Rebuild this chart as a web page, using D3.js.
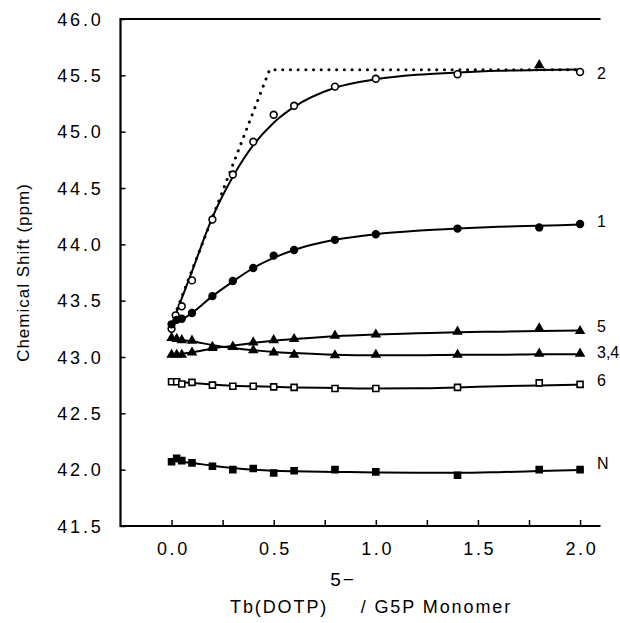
<!DOCTYPE html>
<html>
<head>
<meta charset="utf-8">
<script src="https://cdn.jsdelivr.net/npm/d3@7/dist/d3.min.js"></script>
<style>
  body { margin: 0; background: #fff; }
  text { font-family: "Liberation Sans", Arial, sans-serif; fill: #000; }
</style>
</head>
<body>
<script>
// measured points (x = Tb(DOTP)/G5P ratio, y = shift in ppm)
var xs2 = [0, 0.02, 0.05, 0.1, 0.2, 0.3, 0.4, 0.5, 0.6, 0.8, 1.0, 1.4, 2.0];
var ys2 = [43.25, 43.37, 43.45, 43.68, 44.22, 44.62, 44.91, 45.15, 45.23, 45.40, 45.47, 45.51, 45.53];
var xs = [0, 0.025, 0.05, 0.1, 0.2, 0.3, 0.4, 0.5, 0.6, 0.8, 1.0, 1.4, 1.8, 2.0];
var ys1 = [43.29, 43.33, 43.34, 43.39, 43.54, 43.675, 43.79, 43.90, 43.95, 44.04, 44.09, 44.14, 44.15, 44.18];
var ys5 = [43.02, 43.02, 43.02, 43.04, 43.08, 43.09, 43.13, 43.15, 43.16, 43.19, 43.20, 43.225, 43.255, 43.23];
var ys34 = [43.17, 43.16, 43.15, 43.145, 43.09, 43.09, 43.06, 43.04, 43.02, 43.015, 43.02, 43.02, 43.03, 43.03];
var ys6 = [42.78, 42.78, 42.76, 42.775, 42.75, 42.74, 42.74, 42.735, 42.73, 42.72, 42.72, 42.73, 42.77, 42.757];
var ysN = [42.07, 42.10, 42.08, 42.06, 42.03, 42.00, 42.01, 41.97, 41.99, 42.00, 41.98, 41.95, 42.00, 42.00];
var extraTri = [1.8, 45.59];

// fitted curves
var fitX = [0, 0.05, 0.1, 0.2, 0.3, 0.4, 0.5, 0.6, 0.8, 1.0, 1.2, 1.4, 1.6, 1.8, 2.0];
var fit2 = [43.28, 43.52, 43.76, 44.24, 44.6, 44.88, 45.08, 45.22, 45.39, 45.465, 45.505, 45.525, 45.54, 45.548, 45.552];
var fit1 = [43.29, 43.33, 43.39, 43.54, 43.67, 43.79, 43.88, 43.95, 44.04, 44.09, 44.12, 44.14, 44.155, 44.165, 44.175];
var fit5 = [43.02, 43.03, 43.04, 43.075, 43.10, 43.125, 43.145, 43.16, 43.185, 43.20, 43.21, 43.22, 43.225, 43.23, 43.235];
var fit34 = [43.16, 43.15, 43.14, 43.105, 43.08, 43.06, 43.045, 43.035, 43.02, 43.015, 43.015, 43.02, 43.02, 43.025, 43.025];
var fit6 = [42.78, 42.775, 42.77, 42.755, 42.745, 42.74, 42.735, 42.73, 42.725, 42.72, 42.722, 42.73, 42.74, 42.748, 42.755];
var fitN = [42.08, 42.07, 42.06, 42.035, 42.015, 42.0, 41.99, 41.985, 41.98, 41.975, 41.972, 41.972, 41.978, 41.988, 41.998];
// dotted limiting line for site 2
var limX = [0, 0.48, 2.0];
var limY = [43.3, 45.55, 45.55];

var seriesLabels = ["2", "1", "5", "3,4", "6", "N"];
var labelY = [45.52, 44.2, 43.27, 43.04, 42.79, 42.06];
var yTicks = [41.5, 42.0, 42.5, 43.0, 43.5, 44.0, 44.5, 45.0, 45.5, 46.0];
var xTicks = [0, 0.25, 0.5, 0.75, 1.0, 1.25, 1.5, 1.75, 2.0];

var width = 620, height = 623;
var svg = d3.select("body").append("svg")
    .attr("width", width)
    .attr("height", height);

var x = d3.scaleLinear().domain([-0.25, 2.1]).range([120.5, 600.5]);
var y = d3.scaleLinear().domain([41.5, 46]).range([526, 19]);

//frame: left, top, bottom
svg.append("path")
    .attr("d", "M" + x(2.1) + "," + y(46) + "H" + x(-0.25) + "V" + y(41.5) + "H" + x(2.1))
    .attr("fill", "none").attr("stroke", "#000").attr("stroke-width", 2.2);

//y axis
var yAxis = svg.append("g")
    .attr("transform", "translate(" + x(-0.25) + ",0)")
    .call(d3.axisLeft(y).tickValues(yTicks).tickSize(-5).tickPadding(17).tickFormat(d3.format(".1f")));
yAxis.select(".domain").remove();
yAxis.selectAll("line").attr("stroke-width", 1.5);
yAxis.selectAll("text").attr("font-size", 18).attr("letter-spacing", 2.8).attr("dy", "0.35em");

//x axis
var xAxis = svg.append("g")
    .attr("transform", "translate(0," + y(41.5) + ")")
    .call(d3.axisBottom(x).tickValues(xTicks).tickSize(-6).tickPadding(16)
        .tickFormat(function(d){ return (d * 2) % 1 === 0 ? d3.format(".1f")(d) : ""; }));
xAxis.select(".domain").remove();
xAxis.selectAll("line").attr("stroke-width", 1.5);
xAxis.selectAll("text").attr("font-size", 18).attr("letter-spacing", 2.6).attr("dx", 1.3);

//axis titles
svg.append("text")
    .attr("transform", "translate(29," + ((y(41.5) + y(46)) / 2) + ") rotate(-90)")
    .attr("text-anchor", "middle")
    .attr("font-size", 17)
    .attr("letter-spacing", 1)
    .text("Chemical Shift (ppm)");

var xt = svg.append("text")
    .attr("x", 230).attr("y", 613)
    .attr("font-size", 18)
    .attr("letter-spacing", 1.9);
xt.append("tspan").text("Tb(DOTP)");
xt.append("tspan").attr("dy", -27).attr("dx", 2).attr("font-size", 19).text("5\u2212");
xt.append("tspan").attr("dy", 27).attr("dx", 5).text("/ G5P Monomer");

//curves
function zip(a, b){ return a.map(function(v, i){ return [v, b[i]]; }); }
var line = d3.line()
    .x(function(d){ return x(d[0]); })
    .y(function(d){ return y(d[1]); })
    .curve(d3.curveMonotoneX);

svg.append("path")
    .datum(zip(limX, limY))
    .attr("d", d3.line().x(function(d){ return x(d[0]); }).y(function(d){ return y(d[1]); }))
    .attr("fill", "none").attr("stroke", "#000")
    .attr("stroke-width", 3).attr("stroke-linecap", "round")
    .attr("stroke-dasharray", "0.1,7.6");

[fit2, fit1, fit5, fit34, fit6, fitN].forEach(function(f){
    svg.append("path")
        .datum(zip(fitX, f))
        .attr("d", line)
        .attr("fill", "none").attr("stroke", "#000").attr("stroke-width", 2);
});

//markers
function drawPts(data, type, filled){
    var g = svg.append("g");
    data.forEach(function(d){
        g.append("path")
            .attr("transform", "translate(" + x(d[0]) + "," + y(d[1]) + ")")
            .attr("d", d3.symbol().type(type).size(type === d3.symbolTriangle ? 26 : 36)())
            .attr("stroke", "#000").attr("stroke-width", 1.6)
            .attr("fill", filled ? "#000" : "#fff");
    });
}
drawPts(zip(xs2, ys2), d3.symbolCircle, false);
drawPts([extraTri], d3.symbolTriangle, true);
drawPts(zip(xs, ys1), d3.symbolCircle, true);
drawPts(zip(xs, ys5), d3.symbolTriangle, true);
drawPts(zip(xs, ys34), d3.symbolTriangle, true);
drawPts(zip(xs, ys6), d3.symbolSquare, false);
drawPts(zip(xs, ysN), d3.symbolSquare, true);

//series labels on the right
svg.selectAll(".slab")
    .data(seriesLabels)
    .enter().append("text")
    .attr("class", "slab")
    .attr("x", 597)
    .attr("y", function(d, i){ return y(labelY[i]); })
    .attr("dy", "0.35em")
    .attr("font-size", 16)
    .text(function(d){ return d; });
</script>
</body>
</html>
